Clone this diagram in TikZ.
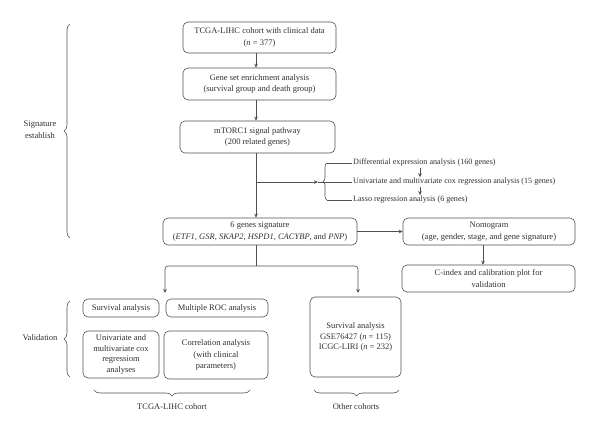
\documentclass[tikz,border=0pt]{standalone}
\usepackage{fontspec}
\setmainfont{Liberation Serif}
\usetikzlibrary{arrows.meta,decorations.pathreplacing}
\definecolor{lnc}{HTML}{505050}
\definecolor{txc}{HTML}{303030}
\newcommand\fsz{\fontsize{8.5}{11.6}\selectfont}
\newcommand\fsl{\fontsize{8.1}{11.6}\selectfont}
\newcommand\fsy{\fontsize{8.5}{10.8}\selectfont}
\tikzset{
 box/.style={draw=lnc, line width=0.6pt, rounded corners=5pt, align=center, inner sep=1pt, font=\fsz, text=txc},
 arr/.style={draw=lnc, line width=0.6pt, -{Stealth[length=4pt,width=3.6pt]}},
 lnk/.style={draw=lnc, line width=0.6pt},
 lbl/.style={align=center, font=\fsz, text=txc, inner sep=1pt},
 lst/.style={anchor=west, font=\fsl, text=txc, inner sep=1pt},
 brc/.style={draw=lnc, line width=0.6pt, decorate, decoration={brace, amplitude=6pt}},
 brs/.style={draw=lnc, line width=0.6pt, decorate, decoration={brace, amplitude=4pt}}
}
\begin{document}
\begin{tikzpicture}[x=1pt,y=-1pt]
\useasboundingbox (0,0) rectangle (600,431);
% main boxes
\node[box, minimum width=153pt, minimum height=31pt] (b1) at (259.5,37.5) {TCGA-LIHC cohort with clinical data\\(\textit{n} = 377)};
\node[box, minimum width=153pt, minimum height=32pt] (b2) at (259.5,84) {Gene set enrichment analysis\\(survival group and death group)};
\node[box, minimum width=155pt, minimum height=32pt] (b3) at (257.5,137) {mTORC1 signal pathway\\(200 related genes)};
\node[box, minimum width=194pt, minimum height=27pt] (b4) at (260,231.5) {6 genes signature\\(\textit{ETF1}, \textit{GSR}, \textit{SKAP2}, \textit{HSPD1}, \textit{CACYBP}, and \textit{PNP})};
\node[box, minimum width=172pt, minimum height=27pt] (nom) at (489,231.5) {Nomogram\\(age, gender, stage, and gene signature)};
\node[box, minimum width=173pt, minimum height=27pt] (cidx) at (488.5,278.5) {C-index and calibration plot for\\validation};
\node[box, minimum width=76pt, minimum height=18pt] (surv) at (121,308) {Survival analysis};
\node[box, minimum width=102pt, minimum height=18pt] (roc) at (217,308) {Multiple ROC analysis};
\node[box, font=\fsy, minimum width=76pt, minimum height=47pt] (uni) at (121,354.5) {Univariate and\\multivariate cox\\regressiom\\analyses};
\node[box, minimum width=104pt, minimum height=48pt] (corr) at (216,355) {Correlation analysis\\(with clinical\\parameters)};
\node[box, font=\fsy, minimum width=91pt, minimum height=80pt] (oth) at (355.5,337) {Survival analysis\\GSE76427 (\textit{n} = 115)\\ICGC-LIRI (\textit{n} = 232)};
% analysis list
\node[lst] (dea) at (352,163) {Differential expression analysis (160 genes)};
\node[lst] (uva) at (352,182) {Univariate and multivariate cox regression analysis (15 genes)};
\node[lst] (las) at (352,200) {Lasso regression analysis (6 genes)};
% side labels
\node[lbl] (sig) at (40,130) {Signature\\establish};
\node[lbl] (val) at (40,338) {Validation};
\node[lbl] (tcg) at (172,407) {TCGA-LIHC cohort};
\node[lbl] (ocs) at (356,407) {Other cohorts};
% coordinates
\coordinate (sp) at (256,0);
\coordinate (sm) at (420,0);
\coordinate (cx) at (483,0);
\coordinate (ae) at (318,182);
\coordinate (bt) at (323,182);
\coordinate (bu) at (327,163);
\coordinate (bd) at (327,200);
\coordinate (j) at (256,266);
\coordinate (la) at (165,293);
\coordinate (ra) at (358,293);
% spine
\draw[arr] (b1.south -| sp) -- (b2.north -| sp);
\draw[arr] (b2.south -| sp) -- (b3.north -| sp);
\draw[arr] (b3.south -| sp) -- (b4.north -| sp);
\draw[arr] (sp |- ae) -- (ae);
\draw[lnk] (ae) -- (bt);
\draw[brs] (bd) -- (bu);
\draw[lnk] (bu) -- (dea.west);
\draw[lnk] (bt) -- (uva.west);
\draw[lnk] (bd) -- (las.west);
\draw[arr] (dea.south -| sm) -- (uva.north -| sm);
\draw[arr] (uva.south -| sm) -- (las.north -| sm);
\draw[arr] (b4.east) -- (nom.west);
\draw[arr] (nom.south -| cx) -- (cidx.north -| cx);
\draw[lnk] (b4.south -| sp) -- (j);
\draw[arr, rounded corners=3pt] (j) -| (la);
\draw[arr, rounded corners=3pt] (j) -| (ra);
% braces
\draw[brc] (70,238) -- (70,24);
\draw[brc] (70,377) -- (70,301);
\draw[brc] (250,390) -- (94,390);
\draw[brc] (399,390) -- (314,390);
\end{tikzpicture}
\end{document}
